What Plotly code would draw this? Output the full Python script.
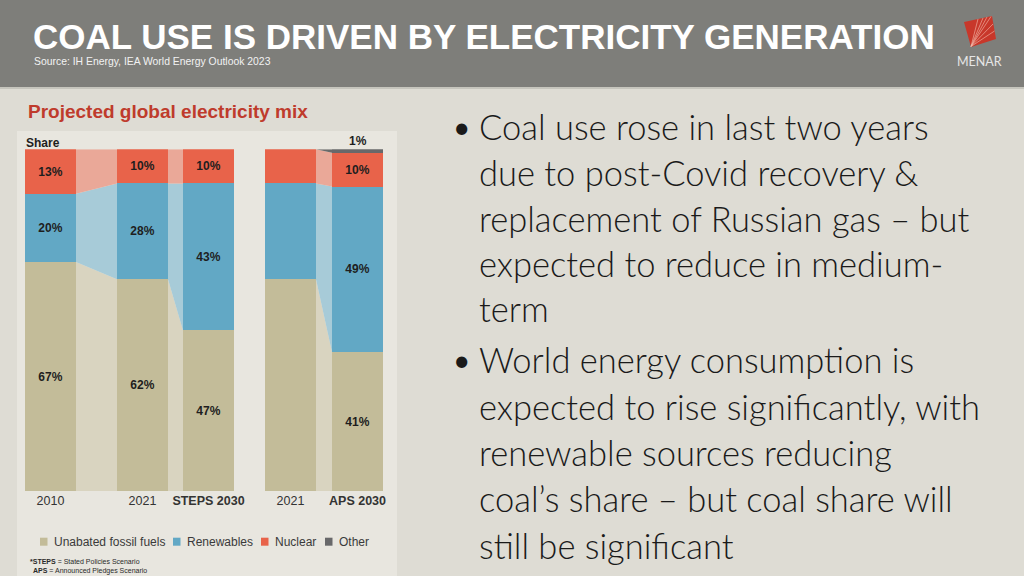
import plotly.graph_objects as go

# ---------------- data ----------------
CATEGORIES = ["2010", "2021", "STEPS 2030", "2021", "APS 2030"]
SCENARIO_TICK = [False, False, True, False, True]
FOSSIL = [67, 62, 47, 62, 41]
RENEWABLES = [20, 28, 43, 28, 49]
NUCLEAR = [13, 10, 10, 10, 10]
OTHER = [0, 0, 0, 0, 1]
SERIES_NAMES = ["Unabated fossil fuels", "Renewables", "Nuclear", "Other"]
LABELED = [True, True, True, False, True]

# ---------------- layout / style ----------------
W, H = 1024, 576
BAR_X = [50.5, 142.5, 208.5, 290.5, 357.5]   # bar centres (x axis is in pixel units)
BAR_W = 51
FLOW_PAIRS = [(0, 1), (1, 2), (3, 4)]
COLORS = ["#c3bc99", "#62a8c5", "#e8634a", "#68686a"]
FLOW_COLORS = ["#d9d4c0", "#a7cbd8", "#eaa898", "#6a6a6a"]
SLIDE_BG = "#dedcd4"
PANEL_BG = "#e8e6df"
HEADER_BG = "#7e7e7a"
Y_BOTTOM_PX, Y_TOP_PX = 491, 149.3
SANS = "Liberation Sans, Arial, sans-serif"
BODY = "Lato, 'Open Sans', sans-serif"

def px(x):
    return x / W

def py(y):
    return 1 - y / H

series_vals = [FOSSIL, RENEWABLES, NUCLEAR, OTHER]
totals = [sum(v[i] for v in series_vals) for i in range(len(CATEGORIES))]
shares = [[v[i] / totals[i] * 100 for i in range(len(CATEGORIES))] for v in series_vals]

fig = go.Figure()

# flows between bars (built from the normalised cumulative shares)
for s in range(len(series_vals)):
    for a, b in FLOW_PAIRS:
        lo_a = sum(shares[k][a] for k in range(s))
        hi_a = lo_a + shares[s][a]
        lo_b = sum(shares[k][b] for k in range(s))
        hi_b = lo_b + shares[s][b]
        if hi_a - lo_a <= 0 and hi_b - lo_b <= 0:
            continue
        xa = BAR_X[a] + BAR_W / 2
        xb = BAR_X[b] - BAR_W / 2
        fig.add_trace(go.Scatter(
            x=[xa, xa, xb, xb, xa], y=[lo_a, hi_a, hi_b, lo_b, lo_a],
            mode="lines", line=dict(width=0), fill="toself",
            fillcolor=FLOW_COLORS[s], hoverinfo="skip", showlegend=False))

# stacked bars
for s, (name, vals) in enumerate(zip(SERIES_NAMES, series_vals)):
    inside = name != "Other"
    text = [f"{v}%" if (LABELED[i] and inside) else "" for i, v in enumerate(vals)]
    fig.add_trace(go.Bar(
        x=BAR_X, y=vals, width=BAR_W, name=name,
        marker=dict(color=COLORS[s], line=dict(width=0)),
        text=text, textposition="inside", insidetextanchor="middle", textangle=0,
        constraintext="none",
        textfont=dict(family=SANS, size=12, color="#1e1e1e", weight="bold"),
        showlegend=False, hoverinfo="skip"))

ticktext = [f"<b>{c}</b>" if SCENARIO_TICK[i] else c for i, c in enumerate(CATEGORIES)]

shapes = [
    dict(type="rect", xref="paper", yref="paper", x0=px(17), x1=px(397), y0=py(576), y1=py(131),
         fillcolor=PANEL_BG, line=dict(width=0), layer="below"),
    dict(type="rect", xref="paper", yref="paper", x0=0, x1=1, y0=py(87), y1=1,
         fillcolor=HEADER_BG, line=dict(width=0), layer="below"),
    dict(type="rect", xref="paper", yref="paper", x0=0, x1=1, y0=py(89), y1=py(87),
         fillcolor="#c6c5bd", line=dict(width=0), layer="below"),
    dict(type="path", xref="paper", yref="paper",
         path=f"M{px(964)},{py(22)} L{px(992)},{py(16)} L{px(996)},{py(39)} L{px(971)},{py(47)} Z",
         fillcolor="#c8372a", line=dict(width=0)),
]
for tx, ty in [(978, 19), (983, 18), (987, 17), (991, 16.5), (993, 24), (994.5, 31)]:
    shapes.append(dict(type="line", xref="paper", yref="paper",
                       x0=px(971), y0=py(46.5), x1=px(tx), y1=py(ty),
                       line=dict(color="rgba(245,190,175,0.75)", width=0.8)))

annotations = []

# labels above the stacks for the small "Other" share
for i, v in enumerate(OTHER):
    if v > 0 and LABELED[i]:
        annotations.append(dict(xref="x", yref="y", x=BAR_X[i], y=100, yanchor="bottom",
                                showarrow=False, text=f"{v}%", yshift=-1,
                                font=dict(family=SANS, size=12, color="#1e1e1e", weight="bold")))

# legend (manual, compact like the source)
LEG_SQ_X = [40, 173, 261, 325]
LEG_Y = 541.7
for s, name in enumerate(SERIES_NAMES):
    shapes.append(dict(type="rect", xref="paper", yref="paper",
                       x0=px(LEG_SQ_X[s]), x1=px(LEG_SQ_X[s] + 7.5),
                       y0=py(LEG_Y + 4), y1=py(LEG_Y - 4),
                       fillcolor=COLORS[s], line=dict(width=0)))
    annotations.append(dict(xref="paper", yref="paper", x=px(LEG_SQ_X[s] + 12), y=py(LEG_Y),
                            xanchor="left", yanchor="middle", showarrow=False, text=name,
                            font=dict(family=SANS, size=12, color="#3a3a3a")))

def note(x, y, text, size, color, family, anchor="left", weight="normal"):
    annotations.append(dict(xref="paper", yref="paper", x=px(x), y=py(y), xanchor=anchor,
                            yanchor="middle", showarrow=False, text=text,
                            font=dict(family=family, size=size, color=color, weight=weight)))

note(31, 36, "COAL USE IS DRIVEN BY ELECTRICITY GENERATION", 35, "#ffffff", SANS, weight="bold")
note(32, 62, "Source: IH Energy, IEA World Energy Outlook 2023", 10.4, "#f2f2f2", SANS)
note(979, 62, "MENAR", 12.5, "#e6e6e6", "Lato, sans-serif", anchor="center")
note(26, 111, "Projected global electricity mix", 19, "#bf3b2c", SANS, weight="bold")
note(24, 143, "Share", 12, "#1e1e1e", SANS, weight="bold")
note(28, 561, "<b>*STEPS</b> = Stated Policies Scenario", 7, "#2a2a2a", SANS)
note(31, 571, "<b>APS</b> = Announced Pledges Scenario", 7, "#2a2a2a", SANS)

# bullet text
BULLETS = [
    ["Coal use rose in last two years", "due to post-Covid recovery &",
     "replacement of Russian gas – but", "expected to reduce in medium-", "term"],
    ["World energy consumption is", "expected to rise significantly, with",
     "renewable sources reducing", "coal’s share – but coal share will", "still be significant"],
]
BULLET_LINE_Y = [[126, 172, 218, 263.5, 308.5], [359, 406, 452, 498, 545]]
for b, lines in enumerate(BULLETS):
    note(451, BULLET_LINE_Y[b][0], "•", 30, "#1a1a1a", BODY)
    for ln, yy in zip(lines, BULLET_LINE_Y[b]):
        note(477, yy, ln, 34.5, "#1a1a1a", BODY, weight=300)

fig.update_layout(
    width=W, height=H, margin=dict(l=0, r=0, t=0, b=0),
    paper_bgcolor=SLIDE_BG, plot_bgcolor="rgba(0,0,0,0)",
    barmode="stack", barnorm="percent", showlegend=False,
    shapes=shapes, annotations=annotations,
    xaxis=dict(range=[0, W], domain=[0, 1], tickvals=BAR_X, ticktext=ticktext,
               showgrid=False, zeroline=False, showline=False, ticks="",
               tickfont=dict(family=SANS, size=12.5, color="#333333"), fixedrange=True),
    yaxis=dict(range=[0, 100], domain=[py(Y_BOTTOM_PX), py(Y_TOP_PX)], visible=False,
               showgrid=False, zeroline=False, fixedrange=True),
)

fig.write_html(
    "out.html",
    config={"displayModeBar": False},
    post_script="document.body.style.margin='0';document.body.style.padding='0';"
                "document.body.style.overflow='hidden';",
)
